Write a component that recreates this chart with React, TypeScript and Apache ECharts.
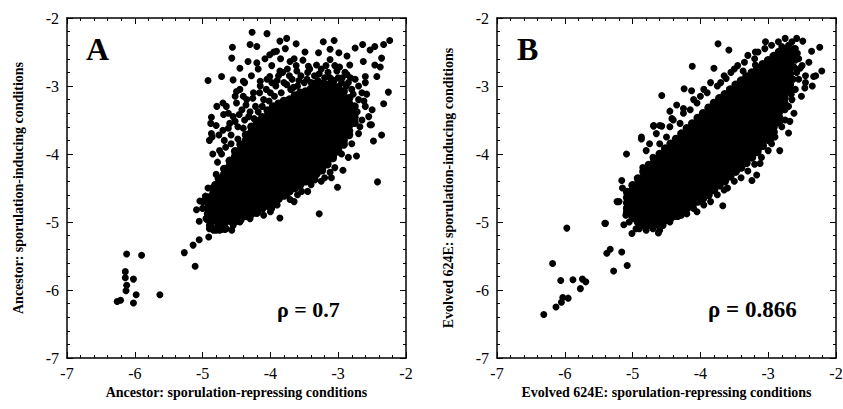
import React, { useEffect, useRef } from "react";
import * as echarts from "echarts";

// ---------- DATA ----------
const xTicks = [-7, -6, -5, -4, -3, -2];
const yTicks = [-7, -6, -5, -4, -3, -2];

const titleA = "A";
const titleB = "B";
const rhoA = "ρ = 0.7";
const rhoB = "ρ = 0.866";
const xNameA = "Ancestor: sporulation-repressing conditions";
const yNameA = "Ancestor: sporulation-inducing conditions";
const xNameB = "Evolved 624E: sporulation-repressing conditions";
const yNameB = "Evolved 624E: sporulation-inducing conditions";

// Panel A: dense core, one column per x value with the y values
const coreA: [number, number[]][] = [
  [-4.92, [-4.64, -4.72, -4.80, -4.88, -4.96]],
  [-4.84, [-4.50, -4.58, -4.66, -4.74, -4.82, -4.90, -4.98]],
  [-4.76, [-4.36, -4.44, -4.52, -4.60, -4.68, -4.76, -4.84, -4.92, -5.00, -5.06]],
  [-4.68, [-4.22, -4.30, -4.38, -4.46, -4.54, -4.62, -4.70, -4.78, -4.86, -4.94, -5.02]],
  [-4.60, [-4.10, -4.18, -4.26, -4.34, -4.42, -4.50, -4.58, -4.66, -4.74, -4.82, -4.90, -4.98]],
  [-4.52, [-3.96, -4.04, -4.12, -4.20, -4.28, -4.36, -4.44, -4.52, -4.60, -4.68, -4.76, -4.84, -4.92, -4.99]],
  [-4.44, [-3.86, -3.94, -4.02, -4.10, -4.18, -4.26, -4.34, -4.42, -4.50, -4.58, -4.66, -4.74, -4.82, -4.90, -4.96]],
  [-4.36, [-3.72, -3.80, -3.88, -3.96, -4.04, -4.12, -4.20, -4.28, -4.36, -4.44, -4.52, -4.60, -4.68, -4.76, -4.84, -4.91]],
  [-4.28, [-3.60, -3.68, -3.76, -3.84, -3.92, -4.00, -4.08, -4.16, -4.24, -4.32, -4.40, -4.48, -4.56, -4.64, -4.72, -4.80, -4.88]],
  [-4.20, [-3.52, -3.60, -3.68, -3.76, -3.84, -3.92, -4.00, -4.08, -4.16, -4.24, -4.32, -4.40, -4.48, -4.56, -4.64, -4.72, -4.80, -4.86]],
  [-4.12, [-3.46, -3.54, -3.62, -3.70, -3.78, -3.86, -3.94, -4.02, -4.10, -4.18, -4.26, -4.34, -4.42, -4.50, -4.58, -4.66, -4.74, -4.80]],
  [-4.04, [-3.36, -3.44, -3.52, -3.60, -3.68, -3.76, -3.84, -3.92, -4.00, -4.08, -4.16, -4.24, -4.32, -4.40, -4.48, -4.56, -4.64, -4.72, -4.76]],
  [-3.96, [-3.30, -3.38, -3.46, -3.54, -3.62, -3.70, -3.78, -3.86, -3.94, -4.02, -4.10, -4.18, -4.26, -4.34, -4.42, -4.50, -4.58, -4.66, -4.71]],
  [-3.88, [-3.26, -3.34, -3.42, -3.50, -3.58, -3.66, -3.74, -3.82, -3.90, -3.98, -4.06, -4.14, -4.22, -4.30, -4.38, -4.46, -4.54, -4.62, -4.66]],
  [-3.80, [-3.22, -3.30, -3.38, -3.46, -3.54, -3.62, -3.70, -3.78, -3.86, -3.94, -4.02, -4.10, -4.18, -4.26, -4.34, -4.42, -4.50, -4.58, -4.61]],
  [-3.72, [-3.20, -3.28, -3.36, -3.44, -3.52, -3.60, -3.68, -3.76, -3.84, -3.92, -4.00, -4.08, -4.16, -4.24, -4.32, -4.40, -4.48, -4.55]],
  [-3.64, [-3.14, -3.22, -3.30, -3.38, -3.46, -3.54, -3.62, -3.70, -3.78, -3.86, -3.94, -4.02, -4.10, -4.18, -4.26, -4.34, -4.42, -4.50]],
  [-3.56, [-3.10, -3.18, -3.26, -3.34, -3.42, -3.50, -3.58, -3.66, -3.74, -3.82, -3.90, -3.98, -4.06, -4.14, -4.22, -4.30, -4.38, -4.45]],
  [-3.48, [-3.08, -3.16, -3.24, -3.32, -3.40, -3.48, -3.56, -3.64, -3.72, -3.80, -3.88, -3.96, -4.04, -4.12, -4.20, -4.28, -4.36, -4.40]],
  [-3.40, [-3.04, -3.12, -3.20, -3.28, -3.36, -3.44, -3.52, -3.60, -3.68, -3.76, -3.84, -3.92, -4.00, -4.08, -4.16, -4.24, -4.32, -4.35]],
  [-3.32, [-3.02, -3.10, -3.18, -3.26, -3.34, -3.42, -3.50, -3.58, -3.66, -3.74, -3.82, -3.90, -3.98, -4.06, -4.14, -4.22, -4.29]],
  [-3.24, [-3.00, -3.08, -3.16, -3.24, -3.32, -3.40, -3.48, -3.56, -3.64, -3.72, -3.80, -3.88, -3.96, -4.04, -4.12, -4.20, -4.24]],
  [-3.16, [-2.98, -3.06, -3.14, -3.22, -3.30, -3.38, -3.46, -3.54, -3.62, -3.70, -3.78, -3.86, -3.94, -4.02, -4.10, -4.15]],
  [-3.08, [-2.98, -3.06, -3.14, -3.22, -3.30, -3.38, -3.46, -3.54, -3.62, -3.70, -3.78, -3.86, -3.94, -4.02, -4.06]],
  [-3.00, [-3.02, -3.10, -3.18, -3.26, -3.34, -3.42, -3.50, -3.58, -3.66, -3.74, -3.82, -3.90, -3.96]],
  [-2.92, [-3.08, -3.16, -3.24, -3.32, -3.40, -3.48, -3.56, -3.64, -3.72, -3.80, -3.86]],
  [-2.84, [-3.18, -3.26, -3.34, -3.42, -3.50, -3.58, -3.66, -3.72]],
  [-2.76, [-3.30, -3.38, -3.46, -3.54]],
];

// Panel A: scattered points around the core
const looseA: [number, number][] = [
  [-4.27, -2.21], [-4.05, -2.23], [-4.92, -2.92], [-4.56, -2.43], [-4.57, -2.59],
  [-3.86, -2.34], [-3.76, -2.30], [-3.62, -2.38], [-3.49, -2.50], [-3.22, -2.35],
  [-3.06, -2.33], [-3.29, -2.51], [-3.12, -2.46], [-2.99, -2.51], [-2.87, -2.56],
  [-2.75, -2.44], [-2.64, -2.39], [-2.53, -2.47], [-2.46, -2.42], [-2.33, -2.39],
  [-2.24, -2.33], [-2.36, -2.59], [-2.38, -2.72], [-2.26, -3.09], [-2.33, -3.26],
  [-2.50, -3.35], [-2.53, -3.57], [-4.72, -2.86], [-4.79, -3.30], [-4.87, -3.46],
  [-4.69, -3.42], [-4.52, -3.15], [-4.30, -2.39], [-4.20, -2.42], [-4.33, -2.64],
  [-4.45, -2.74], [-4.20, -2.66], [-4.01, -2.54], [-3.91, -2.49], [-3.71, -2.64],
  [-3.61, -2.78], [-3.86, -2.78], [-4.01, -2.86], [-4.15, -2.93], [-4.40, -2.93],
  [-4.55, -2.91], [-3.44, -2.71], [-3.32, -2.69], [-3.12, -2.61], [-2.83, -2.69],
  [-2.63, -2.64], [-2.46, -2.69], [-2.60, -2.86], [-2.43, -2.86], [-2.87, -2.83],
  [-3.02, -2.78], [-2.36, -3.72], [-2.48, -3.81], [-2.51, -3.57], [-2.42, -4.41],
  [-2.73, -4.03], [-2.93, -4.24], [-3.01, -4.49], [-3.12, -4.27], [-3.34, -4.38],
  [-3.28, -4.88], [-3.54, -4.55], [-3.76, -4.60], [-3.71, -4.67], [-3.86, -4.94],
  [-3.98, -4.80], [-4.20, -4.87], [-4.40, -4.91], [-4.57, -5.12], [-4.67, -5.11],
  [-4.84, -5.12], [-5.04, -4.69], [-5.09, -4.82], [-5.05, -5.26],
  [-6.12, -5.47], [-5.90, -5.49], [-5.27, -5.45], [-5.14, -5.34], [-5.11, -5.65],
  [-6.14, -5.73], [-6.14, -5.82], [-6.02, -5.84], [-6.12, -5.93], [-6.13, -6.01],
  [-5.98, -6.07], [-5.63, -6.07], [-6.26, -6.17], [-6.21, -6.15], [-6.02, -6.19],
  [-4.91, -5.22], [-4.90, -5.10], [-4.80, -5.12], [-4.72, -5.11], [-4.85, -5.09],
  [-5.05, -4.99],
  [-4.88, -3.55], [-4.87, -3.70], [-4.86, -3.75], [-4.85, -4.00], [-4.80, -4.30],
  [-4.75, -3.95], [-4.70, -3.65], [-4.68, -3.80], [-4.65, -3.30], [-4.60, -3.55],
  [-4.58, -3.85], [-4.55, -3.45], [-4.50, -3.25], [-4.48, -3.60], [-4.45, -3.05],
  [-4.42, -3.35], [-4.38, -2.95], [-4.35, -3.20], [-4.32, -3.45], [-4.28, -2.85],
  [-4.25, -3.10], [-4.22, -3.30], [-4.18, -2.75], [-4.15, -3.00], [-4.10, -3.20],
  [-4.08, -2.60], [-4.05, -2.90], [-4.00, -3.10], [-3.98, -2.70], [-3.95, -2.50],
  [-3.92, -3.00], [-3.88, -2.85], [-3.85, -2.60], [-3.80, -2.95], [-3.78, -2.45],
  [-3.75, -2.75], [-3.70, -3.05], [-3.68, -2.90], [-3.65, -2.60], [-3.60, -3.00],
  [-3.55, -2.85], [-3.50, -2.95], [-3.45, -2.80], [-3.40, -2.95], [-3.35, -2.85],
  [-3.30, -2.92], [-3.25, -2.75], [-3.20, -2.88], [-3.15, -2.80], [-3.10, -2.90],
  [-3.05, -2.70], [-3.00, -2.88], [-2.95, -2.95], [-2.90, -2.80], [-2.85, -2.95],
  [-2.80, -3.05], [-2.75, -2.90], [-2.70, -3.00], [-2.70, -3.20], [-2.65, -3.10],
  [-2.60, -2.95], [-2.60, -3.30], [-2.55, -3.45], [-2.65, -3.50], [-2.70, -3.70],
  [-2.80, -3.85], [-2.85, -4.05], [-2.95, -4.00], [-3.05, -4.20], [-3.10, -4.35],
  [-3.20, -4.35], [-3.25, -4.40], [-3.40, -4.45], [-3.45, -4.55], [-3.60, -4.60],
  [-3.65, -4.70], [-3.90, -4.75], [-4.00, -4.85], [-4.10, -4.90], [-4.30, -4.95],
  [-4.45, -5.00], [-4.55, -5.05], [-4.65, -5.10], [-4.75, -5.12], [-4.90, -5.05],
  [-4.95, -4.95], [-5.00, -4.80], [-5.00, -4.70],
  [-4.62, -3.62], [-4.58, -3.72], [-4.52, -3.52], [-4.48, -3.78], [-4.46, -3.42],
  [-4.40, -3.62], [-4.38, -3.50], [-4.36, -3.28], [-4.30, -3.38], [-4.26, -3.18],
  [-4.24, -3.48], [-4.18, -3.38], [-4.16, -3.10], [-4.12, -3.30], [-4.06, -3.05],
  [-4.02, -3.22], [-3.98, -2.95], [-3.94, -3.15], [-3.90, -2.92], [-3.84, -3.10],
  [-3.82, -2.80], [-3.76, -2.98], [-3.72, -2.85], [-3.66, -3.02], [-3.62, -2.70],
  [-3.58, -2.92], [-3.52, -2.62], [-3.46, -2.90], [-3.42, -2.75], [-3.36, -2.96],
  [-3.28, -2.82], [-3.22, -2.95], [-3.18, -2.70], [-3.12, -2.88], [-3.06, -2.92],
  [-2.98, -2.72], [-2.94, -2.88], [-2.88, -3.00], [-2.82, -2.88], [-2.78, -3.12],
  [-2.72, -3.38], [-2.68, -3.60], [-2.62, -3.22], [-2.58, -3.12], [-4.82, -4.45],
  [-4.78, -4.12], [-4.72, -4.00], [-4.66, -3.90], [-4.92, -4.50], [-4.96, -4.62],
  [-4.50, -3.08], [-4.40, -3.15], [-4.62, -3.40], [-4.70, -3.25], [-4.80, -3.58],
  [-4.76, -3.72], [-4.90, -3.80],
];

// Panel B: dense core
const coreB: [number, number[]][] = [
  [-5.08, [-4.56, -4.64, -4.72, -4.80, -4.86]],
  [-5.00, [-4.46, -4.54, -4.62, -4.70, -4.78, -4.86, -4.94]],
  [-4.92, [-4.36, -4.44, -4.52, -4.60, -4.68, -4.76, -4.84, -4.92, -5.00]],
  [-4.84, [-4.26, -4.34, -4.42, -4.50, -4.58, -4.66, -4.74, -4.82, -4.90, -4.98, -5.04]],
  [-4.76, [-4.16, -4.24, -4.32, -4.40, -4.48, -4.56, -4.64, -4.72, -4.80, -4.88, -4.96, -5.04]],
  [-4.68, [-4.08, -4.16, -4.24, -4.32, -4.40, -4.48, -4.56, -4.64, -4.72, -4.80, -4.88, -4.96, -5.04]],
  [-4.60, [-4.00, -4.08, -4.16, -4.24, -4.32, -4.40, -4.48, -4.56, -4.64, -4.72, -4.80, -4.88, -4.96, -5.00]],
  [-4.52, [-3.92, -4.00, -4.08, -4.16, -4.24, -4.32, -4.40, -4.48, -4.56, -4.64, -4.72, -4.80, -4.88, -4.97]],
  [-4.44, [-3.85, -3.93, -4.01, -4.09, -4.17, -4.25, -4.33, -4.41, -4.49, -4.57, -4.65, -4.73, -4.81, -4.89, -4.94]],
  [-4.36, [-3.78, -3.86, -3.94, -4.02, -4.10, -4.18, -4.26, -4.34, -4.42, -4.50, -4.58, -4.66, -4.74, -4.82, -4.89]],
  [-4.28, [-3.70, -3.78, -3.86, -3.94, -4.02, -4.10, -4.18, -4.26, -4.34, -4.42, -4.50, -4.58, -4.66, -4.74, -4.82, -4.85]],
  [-4.20, [-3.62, -3.70, -3.78, -3.86, -3.94, -4.02, -4.10, -4.18, -4.26, -4.34, -4.42, -4.50, -4.58, -4.66, -4.74, -4.80]],
  [-4.12, [-3.55, -3.63, -3.71, -3.79, -3.87, -3.95, -4.03, -4.11, -4.19, -4.27, -4.35, -4.43, -4.51, -4.59, -4.67, -4.75]],
  [-4.04, [-3.47, -3.55, -3.63, -3.71, -3.79, -3.87, -3.95, -4.03, -4.11, -4.19, -4.27, -4.35, -4.43, -4.51, -4.59, -4.67, -4.70]],
  [-3.96, [-3.40, -3.48, -3.56, -3.64, -3.72, -3.80, -3.88, -3.96, -4.04, -4.12, -4.20, -4.28, -4.36, -4.44, -4.52, -4.60, -4.65]],
  [-3.88, [-3.32, -3.40, -3.48, -3.56, -3.64, -3.72, -3.80, -3.88, -3.96, -4.04, -4.12, -4.20, -4.28, -4.36, -4.44, -4.52, -4.60]],
  [-3.80, [-3.25, -3.33, -3.41, -3.49, -3.57, -3.65, -3.73, -3.81, -3.89, -3.97, -4.05, -4.13, -4.21, -4.29, -4.37, -4.45, -4.53]],
  [-3.72, [-3.18, -3.26, -3.34, -3.42, -3.50, -3.58, -3.66, -3.74, -3.82, -3.90, -3.98, -4.06, -4.14, -4.22, -4.30, -4.38, -4.46]],
  [-3.64, [-3.12, -3.20, -3.28, -3.36, -3.44, -3.52, -3.60, -3.68, -3.76, -3.84, -3.92, -4.00, -4.08, -4.16, -4.24, -4.32, -4.40]],
  [-3.56, [-3.05, -3.13, -3.21, -3.29, -3.37, -3.45, -3.53, -3.61, -3.69, -3.77, -3.85, -3.93, -4.01, -4.09, -4.17, -4.25, -4.33]],
  [-3.48, [-2.98, -3.06, -3.14, -3.22, -3.30, -3.38, -3.46, -3.54, -3.62, -3.70, -3.78, -3.86, -3.94, -4.02, -4.10, -4.18, -4.26]],
  [-3.40, [-2.92, -3.00, -3.08, -3.16, -3.24, -3.32, -3.40, -3.48, -3.56, -3.64, -3.72, -3.80, -3.88, -3.96, -4.04, -4.12, -4.20]],
  [-3.32, [-2.86, -2.94, -3.02, -3.10, -3.18, -3.26, -3.34, -3.42, -3.50, -3.58, -3.66, -3.74, -3.82, -3.90, -3.98, -4.06, -4.13]],
  [-3.24, [-2.80, -2.88, -2.96, -3.04, -3.12, -3.20, -3.28, -3.36, -3.44, -3.52, -3.60, -3.68, -3.76, -3.84, -3.92, -4.00, -4.05]],
  [-3.16, [-2.74, -2.82, -2.90, -2.98, -3.06, -3.14, -3.22, -3.30, -3.38, -3.46, -3.54, -3.62, -3.70, -3.78, -3.86, -3.94, -3.97]],
  [-3.08, [-2.68, -2.76, -2.84, -2.92, -3.00, -3.08, -3.16, -3.24, -3.32, -3.40, -3.48, -3.56, -3.64, -3.72, -3.80, -3.88]],
  [-3.00, [-2.62, -2.70, -2.78, -2.86, -2.94, -3.02, -3.10, -3.18, -3.26, -3.34, -3.42, -3.50, -3.58, -3.66, -3.74, -3.79]],
  [-2.92, [-2.56, -2.64, -2.72, -2.80, -2.88, -2.96, -3.04, -3.12, -3.20, -3.28, -3.36, -3.44, -3.52, -3.60, -3.68]],
  [-2.84, [-2.50, -2.58, -2.66, -2.74, -2.82, -2.90, -2.98, -3.06, -3.14, -3.22, -3.30, -3.38, -3.46, -3.53]],
  [-2.76, [-2.46, -2.54, -2.62, -2.70, -2.78, -2.86, -2.94, -3.02, -3.10, -3.18, -3.26, -3.34]],
  [-2.68, [-2.50, -2.58, -2.66, -2.74, -2.82, -2.90, -2.98, -3.06]],
];

// Panel B: scattered points
const looseB: [number, number][] = [
  [-3.74, -2.38], [-3.58, -2.47], [-3.04, -2.35], [-3.19, -2.50], [-4.12, -2.71],
  [-3.80, -2.74], [-4.57, -3.14], [-4.24, -3.04], [-4.13, -3.07], [-4.69, -3.58],
  [-4.57, -3.59], [-4.87, -3.75], [-4.45, -3.37], [-4.35, -3.28], [-4.25, -3.33],
  [-3.62, -2.89], [-2.58, -2.30], [-2.49, -2.34], [-2.36, -2.49], [-2.24, -2.43],
  [-2.21, -2.78], [-2.33, -2.86], [-2.46, -3.03], [-2.53, -2.74], [-2.51, -3.15],
  [-3.19, -2.69], [-3.37, -2.78],
  [-5.09, -4.00], [-4.87, -3.78], [-5.16, -4.39], [-5.41, -5.02], [-5.23, -4.70],
  [-4.60, -5.07], [-4.37, -4.91], [-4.28, -4.90], [-4.05, -4.85], [-3.67, -4.76],
  [-3.65, -4.53], [-3.24, -4.39], [-3.17, -4.31], [-3.12, -4.14], [-2.83, -3.95],
  [-2.70, -3.69], [-2.68, -3.52], [-2.95, -3.77], [-4.69, -3.59], [-4.60, -3.58],
  [-4.42, -3.48],
  [-6.31, -6.36], [-6.13, -6.25], [-6.05, -6.18], [-6.03, -6.11], [-5.95, -6.12],
  [-6.18, -5.61], [-6.06, -5.86], [-5.88, -5.85], [-5.77, -5.98], [-5.74, -5.84],
  [-5.69, -5.88], [-5.97, -5.09], [-5.40, -5.02], [-5.38, -5.46], [-5.33, -5.40],
  [-5.16, -5.44], [-5.28, -5.72], [-5.08, -5.64], [-5.01, -5.17], [-5.13, -5.04],
  [-4.62, -5.16], [-4.60, -5.12], [-4.37, -4.92], [-4.33, -4.92],
  [-5.20, -4.70], [-5.15, -4.50], [-5.10, -4.90], [-5.05, -5.00], [-4.95, -5.10],
  [-4.85, -4.20], [-4.80, -3.95], [-4.75, -3.85], [-4.70, -4.05], [-4.65, -3.70],
  [-4.60, -3.85], [-4.50, -3.75], [-4.45, -3.60], [-4.40, -3.50], [-4.30, -3.55],
  [-4.25, -3.40], [-4.15, -3.35], [-4.10, -3.20], [-4.05, -3.25], [-4.00, -3.15],
  [-3.95, -3.05], [-3.90, -3.10], [-3.85, -2.95], [-3.75, -3.00], [-3.70, -2.95],
  [-3.65, -2.85], [-3.55, -2.80], [-3.50, -2.75], [-3.45, -2.70], [-3.35, -2.65],
  [-3.30, -2.55], [-3.20, -2.60], [-3.15, -2.50], [-3.05, -2.45], [-2.95, -2.40],
  [-2.85, -2.35], [-2.75, -2.30], [-2.65, -2.35], [-2.60, -2.45], [-2.55, -2.60],
  [-2.50, -2.70], [-2.45, -2.85], [-2.40, -2.65], [-2.55, -2.90], [-2.60, -3.05],
  [-2.65, -3.20], [-2.70, -3.30], [-2.62, -3.40], [-2.75, -3.50], [-2.80, -3.60],
  [-2.90, -3.75], [-2.95, -3.85], [-3.00, -3.95], [-3.10, -4.05], [-3.20, -4.15],
  [-3.30, -4.25], [-3.40, -4.35], [-3.50, -4.40], [-3.60, -4.50], [-3.75, -4.60],
  [-3.85, -4.70], [-3.95, -4.75], [-4.10, -4.80], [-4.20, -4.88], [-4.45, -5.00],
  [-4.55, -5.05], [-4.70, -5.10], [-4.80, -5.12], [-4.90, -5.10],
  [-2.45, -2.95], [-2.35, -3.00], [-2.30, -2.85],
  [-2.62, -2.45], [-2.64, -2.55], [-2.60, -2.62], [-2.62, -2.72], [-2.58, -2.80],
  [-2.63, -2.90], [-2.66, -3.12], [-2.70, -2.40], [-2.80, -2.42], [-2.57, -2.52],
];

// ---------- BUILD ----------
function flattenCore(core: [number, number[]][]) {
  const out: [number, number][] = [];
  core.forEach(([x, ys]) => ys.forEach((y) => out.push([x, y])));
  return out;
}

const FONT = "Liberation Serif";

function makeX(gridIndex: number, position: "bottom" | "top", name?: string) {
  const isMain = position === "bottom";
  return {
    type: "value",
    gridIndex,
    position,
    min: xTicks[0],
    max: xTicks[xTicks.length - 1],
    interval: 1,
    name: isMain ? name : undefined,
    nameLocation: "middle",
    nameGap: 22,
    nameTextStyle: { fontFamily: FONT, fontWeight: "bold", fontSize: 14, color: "#000" },
    axisLine: { show: true, onZero: false, lineStyle: { color: "#000", width: 1.5 } },
    axisTick: { show: true, inside: true, length: 6, lineStyle: { color: "#000", width: 1 } },
    minorTick: { show: true, splitNumber: 5, length: 3, lineStyle: { color: "#000", width: 1 } },
    axisLabel: {
      show: isMain,
      fontFamily: FONT,
      fontSize: 16,
      color: "#000",
      margin: 7,
      formatter: (v: number) => String(v),
    },
    splitLine: { show: false },
    minorSplitLine: { show: false },
  };
}

function makeY(gridIndex: number, position: "left" | "right", name?: string) {
  const isMain = position === "left";
  return {
    type: "value",
    gridIndex,
    position,
    min: yTicks[0],
    max: yTicks[yTicks.length - 1],
    interval: 1,
    name: isMain ? name : undefined,
    nameLocation: "middle",
    nameGap: 42,
    nameTextStyle: { fontFamily: FONT, fontWeight: "bold", fontSize: 14, color: "#000" },
    axisLine: { show: true, onZero: false, lineStyle: { color: "#000", width: 1.5 } },
    axisTick: { show: true, inside: true, length: 6, lineStyle: { color: "#000", width: 1 } },
    minorTick: { show: true, splitNumber: 5, length: 3, lineStyle: { color: "#000", width: 1 } },
    axisLabel: {
      show: isMain,
      fontFamily: FONT,
      fontSize: 16,
      color: "#000",
      margin: 8,
      formatter: (v: number) => String(v),
    },
    splitLine: { show: false },
    minorSplitLine: { show: false },
  };
}

function scatter(xi: number, yi: number, data: [number, number][], size: number) {
  return {
    type: "scatter",
    xAxisIndex: xi,
    yAxisIndex: yi,
    data,
    symbol: "circle",
    symbolSize: size,
    itemStyle: { color: "#000", opacity: 1 },
    emphasis: { disabled: true },
    silent: true,
  };
}

export default function App() {
  const ref = useRef<HTMLDivElement>(null);
  useEffect(() => {
    if (!ref.current) return;
    const chart = echarts.init(ref.current, undefined, { renderer: "svg" });
    chart.setOption({
      animation: false,
      backgroundColor: "#fff",
      grid: [
        { left: 67, top: 18, width: 339, height: 340, outerBoundsMode: "none" },
        { left: 497, top: 18, width: 339, height: 340, outerBoundsMode: "none" },
      ],
      xAxis: [makeX(0, "bottom", xNameA), makeX(0, "top"), makeX(1, "bottom", xNameB), makeX(1, "top")],
      yAxis: [makeY(0, "left", yNameA), makeY(0, "right"), makeY(1, "left", yNameB), makeY(1, "right")],
      series: [
        scatter(0, 0, flattenCore(coreA), 8.5),
        scatter(0, 0, looseA, 7),
        scatter(2, 2, flattenCore(coreB), 8.5),
        scatter(2, 2, looseB, 7),
      ],
      graphic: [
        { type: "text", left: 86, top: 33, style: { text: titleA, font: `bold 32px "${FONT}"`, fill: "#000" } },
        { type: "text", left: 517, top: 33, style: { text: titleB, font: `bold 32px "${FONT}"`, fill: "#000" } },
        { type: "text", left: 277, top: 298, style: { text: rhoA, font: `bold 22px "${FONT}"`, fill: "#000" } },
        { type: "text", left: 708, top: 298, style: { text: rhoB, font: `bold 23px "${FONT}"`, fill: "#000" } },
      ],
    });
    return () => chart.dispose();
  }, []);
  return (
    <div
      ref={ref}
      style={{ position: "fixed", left: 0, top: 0, width: 843, height: 409, background: "#fff" }}
    />
  );
}
